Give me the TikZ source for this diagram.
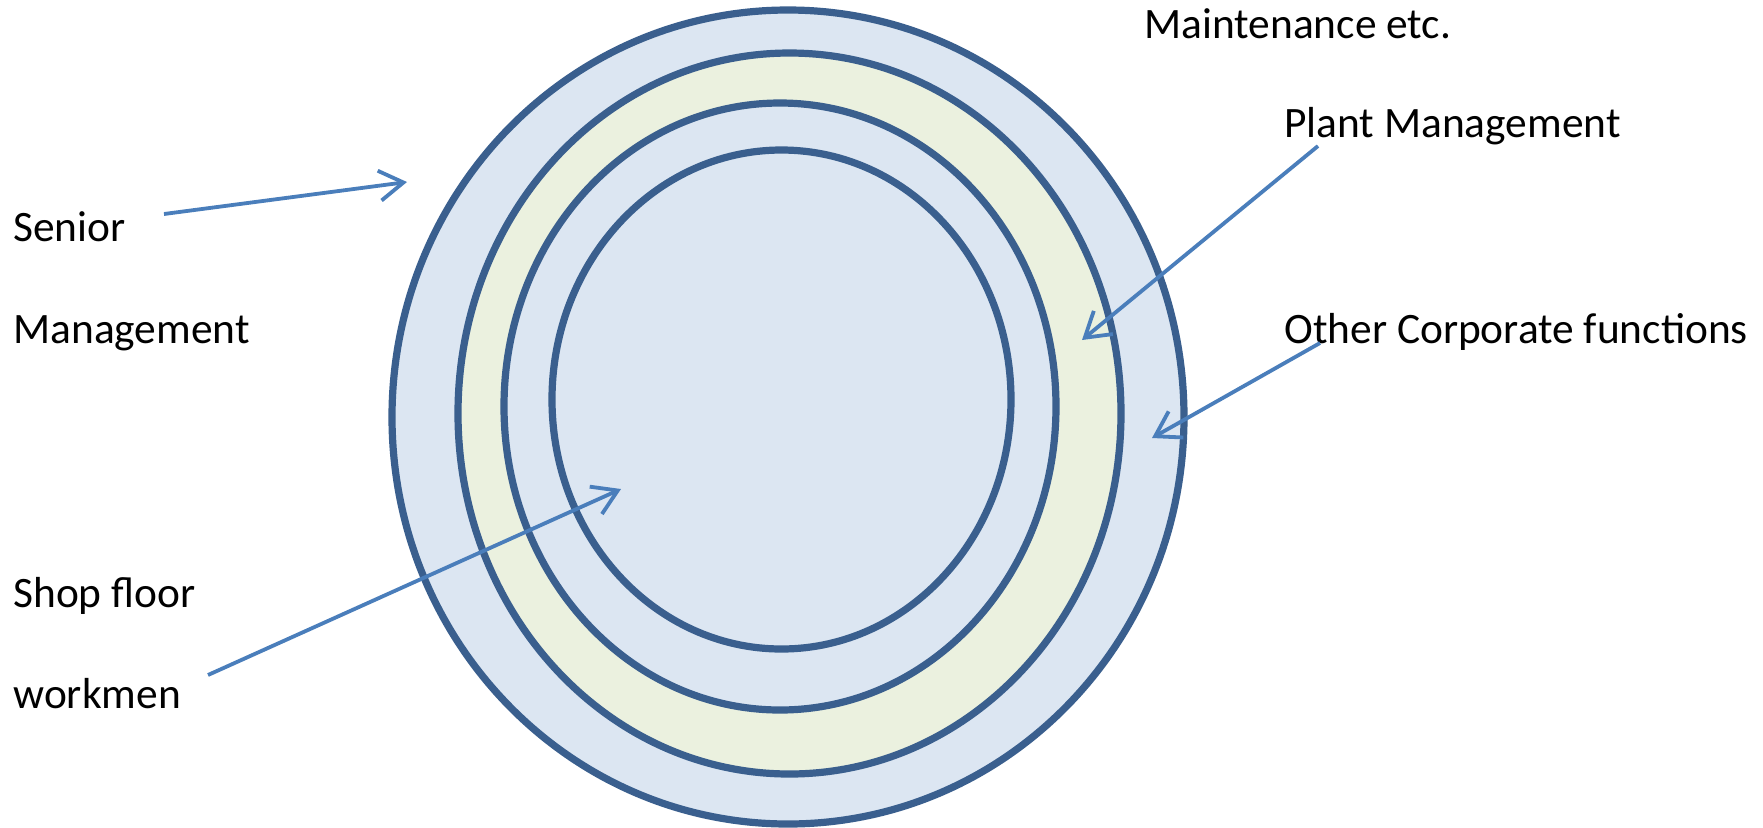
\documentclass[tikz,border=0pt]{standalone}
\usepackage{fontspec}
\setmainfont{Carlito}
\usetikzlibrary{arrows.meta}
\definecolor{ringline}{HTML}{3A5F8E}
\definecolor{ringblue}{HTML}{DCE6F2}
\definecolor{ringgreen}{HTML}{EBF1DF}
\definecolor{arrowblue}{HTML}{4A7EBB}
\tikzset{
  ring/.style={draw=ringline, line width=3.6pt},
  lbl/.style={anchor=base west, inner sep=0pt, font=\fontsize{21.7pt}{26pt}\selectfont},
  pointer/.style={draw=arrowblue, line width=1.9pt, -{Straight Barb[length=12pt,width=15pt]}}
}
\begin{document}
\begin{tikzpicture}[x=0.5pt,y=-0.5pt]
\useasboundingbox (0,0) rectangle (1763,827);
% rings
\draw[ring, fill=ringblue] (788,417) ellipse [x radius=198pt, y radius=203.5pt];
\draw[ring, fill=ringgreen] (789.5,413.5) ellipse [x radius=165.75pt, y radius=180.25pt];
\draw[ring, fill=ringblue] (780,406.5) ellipse [x radius=138pt, y radius=151.75pt];
\draw[ring, fill=ringblue] (781.5,399.5) ellipse [x radius=114.75pt, y radius=124.75pt];
% labels
\node[lbl] (maint) at (1144,38) {Maintenance etc.};
\node[lbl] (plant) at (1284,137) {Plant Management};
\node[lbl] (other) at (1284,343) {Other Corporate functions};
\node[lbl] (senior) at (13,241) {Senior};
\node[lbl] (mgmt) at (13,343) {Management};
\node[lbl] (shop) at (13,607) {Shop floor};
\node[lbl] (work) at (13,708) {workmen};
% pointer ends
\coordinate (s1) at (164,214);
\coordinate (s2) at (407,182);
\coordinate (p1) at (1318,146);
\coordinate (p2) at (1082,340);
\coordinate (o1) at (1320,343);
\coordinate (o2) at (1152,438);
\coordinate (w1) at (208,675);
\coordinate (w2) at (621,489);
\draw[pointer] (s1) -- (s2);
\draw[pointer] (p1) -- (p2);
\draw[pointer] (o1) -- (o2);
\draw[pointer] (w1) -- (w2);
\end{tikzpicture}
\end{document}
